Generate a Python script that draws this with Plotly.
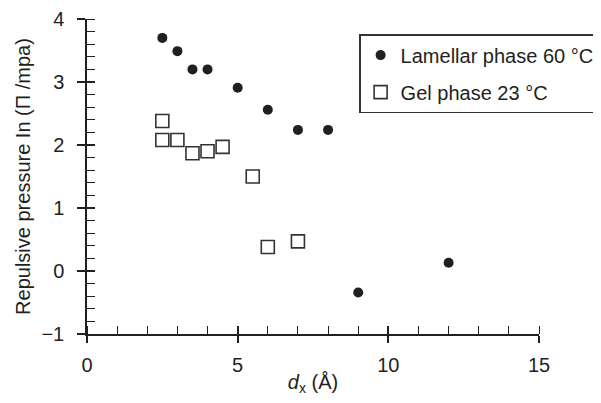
import plotly.graph_objects as go

# Lamellar phase 60 °C (filled markers)
lam_x = [2.5, 3, 3.5, 4, 5, 6, 7, 8, 9, 12]
lam_y = [3.70, 3.49, 3.20, 3.20, 2.91, 2.56, 2.24, 2.24, -0.34, 0.13]

# Gel phase 23 °C (open squares)
gel_x = [2.5, 2.5, 3, 3.5, 4, 4.5, 5.5, 6, 7]
gel_y = [2.38, 2.08, 2.08, 1.87, 1.90, 1.97, 1.50, 0.38, 0.47]

x_ticks = [0, 5, 10, 15]
y_ticks = [-1, 0, 1, 2, 3, 4]
y_tick_text = ["\u22121", "0", "1", "2", "3", "4"]

FONT = "Liberation Sans, Arial, sans-serif"
INK = "#231f20"

fig = go.Figure()
fig.add_trace(go.Scatter(
    x=lam_x, y=lam_y, mode="markers", name="Lamellar phase 60 \u00b0C",
    legendgroup="a",
    marker=dict(symbol="circle", size=10, color=INK, line=dict(width=0)),
))
fig.add_trace(go.Scatter(
    x=gel_x, y=gel_y, mode="markers", name="Gel phase 23 \u00b0C",
    legendgroup="b",
    marker=dict(symbol="square-open", size=13, color="#333333", line=dict(width=1.6)),
))
# invisible trace to activate overlay axes (inner tick marks)
fig.add_trace(go.Scatter(x=[], y=[], xaxis="x2", yaxis="y2", showlegend=False, hoverinfo="skip"))

fig.update_layout(
    width=601, height=403,
    margin=dict(l=79, r=70, t=11, b=77, autoexpand=False),
    paper_bgcolor="white", plot_bgcolor="white",
    font=dict(family=FONT, size=20, color=INK),
    showlegend=True,
    legend=dict(
        x=0.602, y=0.952, xanchor="left", yanchor="top",
        bordercolor="#333333", borderwidth=1.5, bgcolor="white",
        font=dict(size=20), tracegroupgap=8, itemwidth=30,
    ),
    xaxis=dict(
        range=[0, 15], showgrid=False, zeroline=False, automargin=False,
        showline=True, linecolor=INK, linewidth=1.5,
        tickvals=x_ticks, ticks="outside", ticklen=7, tickwidth=1.5, tickcolor=INK,
        minor=dict(dtick=1, ticks="inside", ticklen=8, tickwidth=1.2, tickcolor=INK),
        ticklabelstandoff=5,
        title=dict(text="<i>d</i><sub>x</sub> (\u00c5)", standoff=0, font=dict(size=20)),
    ),
    yaxis=dict(
        range=[-1, 4], showgrid=False, zeroline=False, automargin=False,
        showline=True, linecolor=INK, linewidth=1.5,
        tickvals=y_ticks, ticktext=y_tick_text,
        ticks="outside", ticklen=8, tickwidth=1.5, tickcolor=INK,
        minor=dict(dtick=0.2, ticks="inside", ticklen=8, tickwidth=1.2, tickcolor=INK),
        ticklabelstandoff=9,
        title=dict(text="Repulsive pressure In (\u03a0 /mpa)", standoff=5, font=dict(size=20)),
    ),
    xaxis2=dict(
        range=[0, 15], overlaying="x", side="bottom", showgrid=False, zeroline=False,
        automargin=False, showline=False, tickvals=x_ticks, showticklabels=False,
        ticks="inside", ticklen=8, tickwidth=1.5, tickcolor=INK,
    ),
    yaxis2=dict(
        range=[-1, 4], overlaying="y", side="left", showgrid=False, zeroline=False,
        automargin=False, showline=False, tickvals=y_ticks, showticklabels=False,
        ticks="inside", ticklen=8, tickwidth=1.5, tickcolor=INK,
    ),
)

fig.write_html("out.html")
